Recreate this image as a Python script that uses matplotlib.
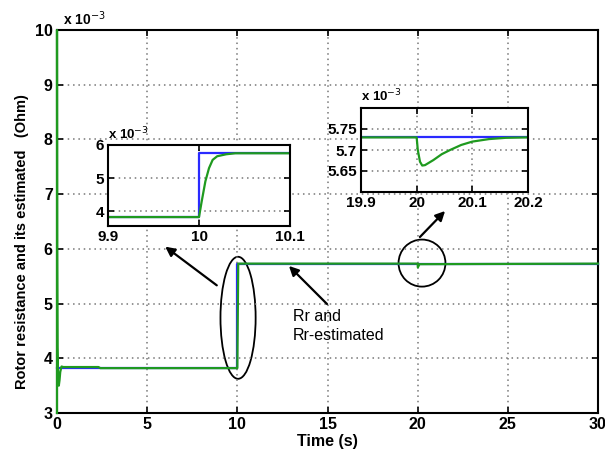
import matplotlib.pyplot as plt
from matplotlib.patches import Ellipse

plt.rcParams['font.family'] = ['Liberation Sans', 'DejaVu Sans']

# rotor resistance (x 1e-3 Ohm) over the whole run
t_ref = [0, 10, 10, 30]
r_ref = [3.82, 3.82, 5.73, 5.73]
t_est = [0, 0, 0.01, 0.03, 0.06, 0.1, 0.14, 0.18, 0.25, 0.35, 0.5, 2.3, 2.4, 10, 10.05, 20, 20.01, 20.1, 30]
r_est = [3.0, 10.0, 6.0, 4.2, 3.7, 3.5, 3.6, 3.75, 3.85, 3.84, 3.84, 3.84, 3.82, 3.82, 5.73, 5.73, 5.66, 5.72, 5.73]

# zoom on the step at t = 10 s
t1_ref = [9.9, 10.0, 10.0, 10.1]
r1_ref = [3.82, 3.82, 5.75, 5.75]
t1_est = [9.9, 10.0, 10.003, 10.007, 10.011, 10.015, 10.02, 10.03, 10.04, 10.1]
r1_est = [3.82, 3.82, 4.3, 4.9, 5.3, 5.55, 5.66, 5.72, 5.75, 5.75]

# zoom on the disturbance at t = 20 s
t2_ref = [19.9, 20.2]
r2_ref = [5.73, 5.73]
t2_est = [19.9, 20.0, 20.002, 20.006, 20.01, 20.015, 20.02, 20.03, 20.045,
          20.06, 20.08, 20.1, 20.13, 20.16, 20.2]
r2_est = [5.73, 5.73, 5.70, 5.672, 5.663, 5.664, 5.668, 5.676, 5.69,
          5.70, 5.712, 5.72, 5.726, 5.729, 5.73]

blue = '#2a2aff'
green = '#1f9a1f'
W, H = 605, 459


def style(ax, size):
    ax.grid(True, color='#777777', linestyle=(0, (1, 2.5)), linewidth=1.1)
    ax.tick_params(direction='in', top=True, right=True, length=4, width=1.2,
                   labelsize=size, pad=3)
    for s in ax.spines.values():
        s.set_linewidth(1.5)
    for lab in ax.get_xticklabels() + ax.get_yticklabels():
        lab.set_fontweight('bold')


def box(l, t, r, b):
    return [l / W, 1 - b / H, (r - l) / W, (b - t) / H]


fig = plt.figure(figsize=(6.05, 4.59), dpi=100)
ax = fig.add_axes(box(57, 30, 598, 413))
ax.plot(t_ref, r_ref, color=blue, lw=1.6, zorder=3, clip_on=False)
ax.plot(t_est, r_est, color=green, lw=1.6, zorder=3, clip_on=False)
ax.set_xlim(0, 30)
ax.set_ylim(3, 10)
ax.set_xticks(range(0, 31, 5))
ax.set_yticks(range(3, 11))
style(ax, 11.5)
ax.text(0.012, 1.005, r'x 10$^{-3}$', transform=ax.transAxes, fontsize=10,
        fontweight='bold', va='bottom')
ax.set_xlabel('Time (s)', fontsize=11.5, fontweight='bold', labelpad=1)
fig.text(22 / W, 1 - 242 / H, 'Rotor resistance and its estimated   (Ohm)',
         rotation=90, fontsize=10.5, fontweight='bold', ha='center', va='center')

ax.add_patch(Ellipse((10.04, 4.74), 1.95, 2.23, fill=False, color='k', lw=1.3))
ax.add_patch(Ellipse((20.24, 5.74), 2.6, 0.86, fill=False, color='k', lw=1.3))
ax.text(13.1, 4.9, 'Rr and\nRr-estimated', fontsize=11.5, va='top', linespacing=1.3)

arrow = dict(arrowstyle='-|>', color='k', lw=1.6, mutation_scale=14)
for tail, head in [((219, 287), (163, 245)), ((329, 306), (287, 264)),
                   ((418, 239), (447, 209))]:
    ax.annotate('', xy=(head[0] / W, 1 - head[1] / H), xycoords='figure fraction',
                xytext=(tail[0] / W, 1 - tail[1] / H), textcoords='figure fraction',
                arrowprops=arrow)

ins1 = fig.add_axes(box(108, 145, 290, 226))
ins1.plot(t1_ref, r1_ref, color=blue, lw=1.6)
ins1.plot(t1_est, r1_est, color=green, lw=1.6)
ins1.set_xlim(9.9, 10.1)
ins1.set_ylim(3.55, 6)
ins1.set_xticks([9.9, 10, 10.1])
ins1.set_xticklabels(['9.9', '10', '10.1'])
ins1.set_yticks([4, 5, 6])
style(ins1, 11)
ins1.text(0.0, 1.03, r'x 10$^{-3}$', transform=ins1.transAxes, fontsize=9.5,
          fontweight='bold', va='bottom')

ins2 = fig.add_axes(box(361, 108, 528, 192))
ins2.plot(t2_ref, r2_ref, color=blue, lw=1.6)
ins2.plot(t2_est, r2_est, color=green, lw=1.6)
ins2.set_xlim(19.9, 20.2)
ins2.set_ylim(5.6, 5.8)
ins2.set_xticks([19.9, 20, 20.1, 20.2])
ins2.set_xticklabels(['19.9', '20', '20.1', '20.2'])
ins2.set_yticks([5.65, 5.7, 5.75])
ins2.set_yticklabels(['5.65', '5.7', '5.75'])
style(ins2, 11)
ins2.text(0.0, 1.04, r'x 10$^{-3}$', transform=ins2.transAxes, fontsize=9.5,
          fontweight='bold', va='bottom')

fig.savefig('out.png', dpi=100)
